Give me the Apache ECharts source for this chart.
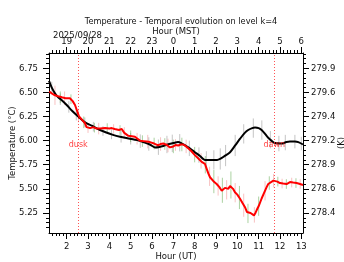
<!DOCTYPE html>
<html>
<head>
<meta charset="utf-8">
<script src="https://cdn.jsdelivr.net/npm/echarts@6/dist/echarts.min.js"></script>
<style>
  html, body { margin: 0; padding: 0; background: #fff; }
  #chart { width: 344px; height: 262px; }
</style>
</head>
<body>
<div id="chart"></div>
<script>
// hour (UT) range shown and tick labels
var xMin = 1.17, xMax = 13.08;
var hourTicks = [2, 3, 4, 5, 6, 7, 8, 9, 10, 11, 12, 13];
var mstLabels = ["19", "20", "21", "22", "23", "0", "1", "2", "3", "4", "5", "6"];

// temperature range (°C) and tick labels
var yMin = 5.042, yMax = 6.909;
var tempTicks = [5.25, 5.5, 5.75, 6.0, 6.25, 6.5, 6.75];
var kelvinLabels = ["278.4", "278.6", "278.9", "279.2", "279.4", "279.6", "279.9"];

var duskTime = 2.54, dawnTime = 11.73, markLabelTemp = 5.96;

// black curve
var modelTime = [1.17, 1.3, 1.45, 1.6, 1.77, 2.0, 2.25, 2.54, 2.86, 3.17, 3.56, 4.17, 4.5, 4.97, 5.3, 5.59, 5.9, 6.14, 6.35, 6.53, 6.8, 7.0, 7.22, 7.4, 7.55, 7.8, 8.01, 8.25, 8.48, 8.7, 8.87, 9.05, 9.19, 9.4, 9.66, 9.9, 10.13, 10.35, 10.51, 10.7, 10.83, 11.0, 11.14, 11.3, 11.45, 11.6, 11.77, 12.08, 12.3, 12.47, 12.7, 12.86, 13.08];
var modelTemp = [6.62, 6.55, 6.49, 6.45, 6.42, 6.37, 6.31, 6.25, 6.19, 6.155, 6.11, 6.06, 6.04, 6.02, 6.005, 5.985, 5.96, 5.93, 5.935, 5.945, 5.965, 5.975, 5.985, 5.97, 5.95, 5.915, 5.88, 5.84, 5.80, 5.80, 5.80, 5.80, 5.81, 5.84, 5.88, 5.95, 6.02, 6.08, 6.11, 6.13, 6.135, 6.13, 6.11, 6.07, 6.03, 6.0, 5.975, 5.97, 5.985, 5.99, 5.99, 5.985, 5.96];

// red curve
var obsTime = [1.18, 1.3, 1.45, 1.6, 1.77, 1.95, 2.15, 2.28, 2.39, 2.5, 2.58, 2.7, 2.86, 2.93, 3.01, 3.1, 3.25, 3.4, 3.56, 3.8, 4.0, 4.11, 4.25, 4.34, 4.45, 4.58, 4.7, 4.89, 5.05, 5.2, 5.32, 5.44, 5.6, 5.75, 5.9, 6.1, 6.29, 6.4, 6.53, 6.7, 6.84, 7.0, 7.1, 7.23, 7.35, 7.47, 7.6, 7.7, 7.85, 8.01, 8.15, 8.33, 8.48, 8.56, 8.64, 8.72, 8.8, 8.92, 9.03, 9.15, 9.27, 9.35, 9.42, 9.5, 9.58, 9.66, 9.74, 9.8, 9.89, 10.0, 10.12, 10.25, 10.36, 10.45, 10.51, 10.62, 10.7, 10.78, 10.85, 10.91, 11.02, 11.14, 11.26, 11.38, 11.45, 11.53, 11.69, 11.77, 11.88, 12.0, 12.15, 12.31, 12.47, 12.62, 12.78, 12.94, 13.08];
var obsTemp = [6.51, 6.49, 6.47, 6.46, 6.45, 6.44, 6.44, 6.41, 6.37, 6.30, 6.25, 6.22, 6.18, 6.14, 6.125, 6.13, 6.14, 6.125, 6.125, 6.13, 6.125, 6.13, 6.12, 6.12, 6.11, 6.12, 6.08, 6.05, 6.045, 6.04, 6.02, 6.00, 5.995, 5.99, 5.985, 5.97, 5.95, 5.965, 5.97, 5.955, 5.93, 5.94, 5.955, 5.95, 5.96, 5.96, 5.94, 5.92, 5.89, 5.85, 5.82, 5.78, 5.76, 5.71, 5.66, 5.62, 5.60, 5.57, 5.55, 5.52, 5.48, 5.50, 5.51, 5.49, 5.50, 5.53, 5.55, 5.50, 5.465, 5.44, 5.40, 5.35, 5.31, 5.26, 5.24, 5.25, 5.23, 5.225, 5.25, 5.28, 5.33, 5.40, 5.46, 5.52, 5.55, 5.57, 5.585, 5.59, 5.575, 5.56, 5.555, 5.55, 5.57, 5.565, 5.56, 5.55, 5.54];

// error bars (centre and half height)
var grayBarTime = [1.3, 1.7, 2.1, 2.45, 2.85, 3.25, 3.7, 4.1, 4.55, 5.0, 5.45, 5.85, 6.3, 6.7, 6.95, 7.3, 7.75, 8.2, 8.55, 8.9, 9.2, 9.45, 9.9, 10.3, 10.75, 11.15, 11.55, 11.95, 12.25, 12.7, 13.0];
var grayBarMid = [6.55, 6.43, 6.35, 6.27, 6.19, 6.145, 6.10, 6.065, 6.04, 6.02, 5.995, 5.965, 5.932, 5.96, 5.972, 5.978, 5.92, 5.85, 5.80, 5.80, 5.81, 5.845, 5.95, 6.07, 6.13, 6.11, 6.01, 5.97, 5.98, 5.99, 5.97];
var grayBarHalf = [0.06, 0.06, 0.06, 0.06, 0.05, 0.05, 0.05, 0.05, 0.06, 0.06, 0.07, 0.07, 0.08, 0.09, 0.09, 0.09, 0.08, 0.08, 0.09, 0.1, 0.11, 0.11, 0.11, 0.1, 0.1, 0.1, 0.09, 0.08, 0.08, 0.07, 0.07];

var pinkBarTime = [1.45, 1.9, 2.55, 3.0, 3.5, 4.2, 4.7, 5.3, 5.8, 6.4, 6.75, 7.1, 7.6, 8.3, 8.7, 9.1, 9.5, 9.9, 10.3, 10.8, 11.3, 11.7, 12.1, 12.55, 12.95];
var pinkBarMid = [6.47, 6.44, 6.26, 6.13, 6.125, 6.12, 6.08, 6.02, 5.99, 5.965, 5.95, 5.955, 5.94, 5.79, 5.63, 5.53, 5.49, 5.46, 5.33, 5.23, 5.48, 5.585, 5.555, 5.565, 5.55];
var pinkBarHalf = [0.1, 0.07, 0.07, 0.05, 0.06, 0.05, 0.06, 0.06, 0.07, 0.07, 0.07, 0.06, 0.07, 0.08, 0.1, 0.1, 0.1, 0.1, 0.12, 0.08, 0.1, 0.07, 0.05, 0.05, 0.05];

var greenBarTime = [1.7, 2.2, 2.8, 3.3, 3.9, 4.5, 5.0, 5.55, 6.1, 6.6, 7.0, 7.4, 8.0, 8.5, 8.9, 9.3, 9.7, 10.1, 10.5, 11.0, 11.5, 11.9, 12.3, 12.75];
var greenBarMid = [6.45, 6.43, 6.19, 6.135, 6.13, 6.11, 6.045, 5.995, 5.97, 5.965, 5.94, 5.96, 5.855, 5.75, 5.575, 5.485, 5.54, 5.41, 5.245, 5.32, 5.56, 5.575, 5.55, 5.56];
var greenBarHalf = [0.06, 0.05, 0.06, 0.05, 0.05, 0.05, 0.06, 0.06, 0.06, 0.06, 0.07, 0.07, 0.08, 0.09, 0.12, 0.13, 0.14, 0.12, 0.1, 0.1, 0.07, 0.05, 0.05, 0.05];

var FONT = "DejaVu Sans";

// minor tick positions (10 min on x, 0.05 on y)
var minorHour = [];
for (var m = 7; m <= 78; m++) minorHour.push(m / 6);
var minorTemp = [];
for (var k = 102; k <= 138; k++) minorTemp.push(k / 20);

function zip(a, b) {
  return a.map(function (v, i) { return [v, b[i]]; });
}
function bars(t, mid, half) {
  return t.map(function (v, i) { return [v, mid[i] - half[i], mid[i] + half[i]]; });
}
function barSeries(data, color) {
  return {
    type: "custom",
    xAxisIndex: 0,
    yAxisIndex: 0,
    silent: true,
    clip: true,
    z: 1,
    data: data,
    renderItem: function (params, api) {
      var p1 = api.coord([api.value(0), api.value(1)]);
      var p2 = api.coord([api.value(0), api.value(2)]);
      return {
        type: "line",
        shape: { x1: p1[0], y1: p1[1], x2: p2[0], y2: p2[1] },
        style: { stroke: color, lineWidth: 1 }
      };
    }
  };
}
function findIdx(arr, v) {
  for (var i = 0; i < arr.length; i++) if (Math.abs(arr[i] - v) < 1e-6) return i;
  return -1;
}

var lineBlack = { color: "#000", width: 1 };
var labelBase = { color: "#111", fontSize: 8.5, fontFamily: FONT };
var nameStyle = { color: "#111", fontSize: 8.5, fontFamily: FONT };
var gridBox = { left: 49, right: 41, top: 53, bottom: 29, containLabel: false, outerBoundsMode: "none" };

var chart = echarts.init(document.getElementById("chart"), null, { renderer: "canvas" });
var option = {
  animation: false,
  backgroundColor: "#fff",
  textStyle: { fontFamily: FONT },
  title: [
    {
      text: "Temperature - Temporal evolution on level k=4",
      left: 176, top: 13, textAlign: "center",
      textStyle: { fontSize: 8.2, fontWeight: "normal", color: "#111", fontFamily: FONT }
    },
    {
      text: "2025/09/28",
      left: 48, top: 26,
      textStyle: { fontSize: 8.5, fontWeight: "normal", color: "#111", fontFamily: FONT }
    }
  ],
  grid: [Object.assign({}, gridBox), Object.assign({}, gridBox)],
  xAxis: [
    {
      type: "value", gridIndex: 0, position: "bottom", min: xMin, max: xMax,
      axisLine: { onZero: false, lineStyle: lineBlack },
      axisTick: { customValues: hourTicks, length: 6, lineStyle: lineBlack },
      axisLabel: Object.assign({ customValues: hourTicks, margin: 9,
        formatter: function (v) { return String(Math.round(v)); } }, labelBase),
      splitLine: { show: false },
      name: "Hour (UT)", nameLocation: "middle", nameGap: 19, nameMoveOverlap: false,
      nameTextStyle: nameStyle
    },
    {
      type: "value", gridIndex: 0, position: "top", min: xMin, max: xMax,
      axisLine: { onZero: false, lineStyle: lineBlack },
      axisTick: { customValues: hourTicks, length: 6, lineStyle: lineBlack },
      axisLabel: Object.assign({ customValues: hourTicks, margin: 7,
        formatter: function (v) { return mstLabels[findIdx(hourTicks, v)]; } }, labelBase),
      splitLine: { show: false },
      name: "Hour (MST)", nameLocation: "middle", nameGap: 17, nameMoveOverlap: false,
      nameTextStyle: nameStyle
    },
    {
      type: "value", gridIndex: 1, position: "bottom", min: xMin, max: xMax,
      axisLine: { show: false, onZero: false },
      axisTick: { customValues: minorHour, length: 3, lineStyle: lineBlack },
      axisLabel: { show: false }, splitLine: { show: false }
    },
    {
      type: "value", gridIndex: 1, position: "top", min: xMin, max: xMax,
      axisLine: { show: false, onZero: false },
      axisTick: { customValues: minorHour, length: 3, lineStyle: lineBlack },
      axisLabel: { show: false }, splitLine: { show: false }
    }
  ],
  yAxis: [
    {
      type: "value", gridIndex: 0, position: "left", min: yMin, max: yMax,
      axisLine: { onZero: false, lineStyle: lineBlack },
      axisTick: { customValues: tempTicks, length: 6, lineStyle: lineBlack },
      axisLabel: Object.assign({ customValues: tempTicks, margin: 11,
        formatter: function (v) { return v.toFixed(2); } }, labelBase),
      splitLine: { show: false },
      name: "Temperature (°C)", nameLocation: "middle", nameGap: 32, nameMoveOverlap: false,
      nameTextStyle: nameStyle
    },
    {
      type: "value", gridIndex: 0, position: "right", min: yMin, max: yMax,
      axisLine: { onZero: false, lineStyle: lineBlack },
      axisTick: { customValues: tempTicks, length: 6, lineStyle: lineBlack },
      axisLabel: Object.assign({ customValues: tempTicks, margin: 8,
        formatter: function (v) { return kelvinLabels[findIdx(tempTicks, v)]; } }, labelBase),
      splitLine: { show: false },
      name: "(K)", nameLocation: "middle", nameGap: 34, nameRotate: 90, nameMoveOverlap: false,
      nameTextStyle: nameStyle
    },
    {
      type: "value", gridIndex: 1, position: "left", min: yMin, max: yMax,
      axisLine: { show: false, onZero: false },
      axisTick: { customValues: minorTemp, length: 3, lineStyle: lineBlack },
      axisLabel: { show: false }, splitLine: { show: false }
    },
    {
      type: "value", gridIndex: 1, position: "right", min: yMin, max: yMax,
      axisLine: { show: false, onZero: false },
      axisTick: { customValues: minorTemp, length: 3, lineStyle: lineBlack },
      axisLabel: { show: false }, splitLine: { show: false }
    }
  ],
  series: [
    barSeries(bars(grayBarTime, grayBarMid, grayBarHalf), "rgba(150,150,150,0.55)"),
    barSeries(bars(pinkBarTime, pinkBarMid, pinkBarHalf), "rgba(240,120,120,0.45)"),
    barSeries(bars(greenBarTime, greenBarMid, greenBarHalf), "rgba(90,165,70,0.5)"),
    {
      type: "line", xAxisIndex: 0, yAxisIndex: 0, z: 3,
      data: zip(modelTime, modelTemp),
      smooth: 0.3, showSymbol: false, silent: true,
      lineStyle: { color: "#000", width: 2 }
    },
    {
      type: "line", xAxisIndex: 0, yAxisIndex: 0, z: 4,
      data: zip(obsTime, obsTemp),
      showSymbol: false, silent: true,
      lineStyle: { color: "#ff0000", width: 2 },
      markLine: {
        silent: true, symbol: ["none", "none"],
        label: { show: false },
        lineStyle: { color: "rgba(255,40,40,0.8)", type: [1, 2], width: 1 },
        data: [{ xAxis: duskTime }, { xAxis: dawnTime }]
      },
      markPoint: {
        silent: true, symbol: "circle", symbolSize: 1,
        itemStyle: { color: "transparent" },
        label: { show: true, position: "inside", formatter: "{b}",
          color: "rgba(255,30,30,0.85)", fontSize: 8, fontFamily: FONT },
        data: [
          { name: "dusk", coord: [duskTime, markLabelTemp] },
          { name: "dawn", coord: [dawnTime, markLabelTemp] }
        ]
      }
    }
  ]
};
chart.setOption(option);
</script>
</body>
</html>
